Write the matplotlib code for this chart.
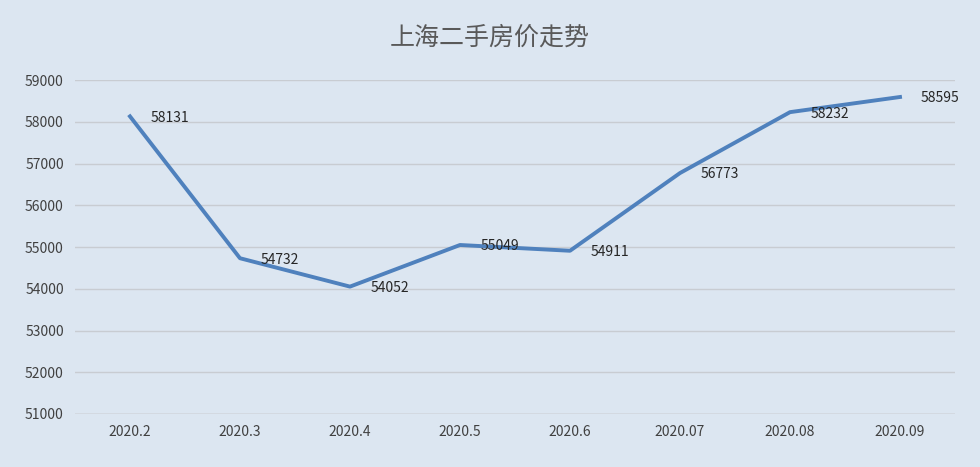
import matplotlib.pyplot as plt

plt.rcParams['font.family'] = ['Noto Sans CJK SC', 'DejaVu Sans']

months = ["2020.2", "2020.3", "2020.4", "2020.5", "2020.6", "2020.07", "2020.08", "2020.09"]
prices = [58131, 54732, 54052, 55049, 54911, 56773, 58232, 58595]

bg = "#dce6f1"
fig = plt.figure(figsize=(9.8, 4.67), dpi=100, facecolor=bg)
ax = fig.add_axes([0.0765, 0.1135, 0.898, 0.715], facecolor=bg)

x = range(len(months))
ax.plot(x, prices, color="#4f81bd", linewidth=2.8, solid_joinstyle="round")
for i, v in zip(x, prices):
    ax.annotate(str(v), (i, v), xytext=(15, -1), textcoords="offset points",
                va="center", ha="left", fontsize=10, color="#262626")

ax.set_xlim(-0.5, len(months) - 0.5)
ax.set_ylim(51000, 59000)
ax.set_yticks(range(51000, 59001, 1000))
ax.set_xticks(list(x))
ax.set_xticklabels(months)
ax.tick_params(length=0, labelsize=10, labelcolor="#404040", pad=8)
ax.yaxis.grid(True, color="#c8ccd2", linewidth=1)
ax.set_axisbelow(True)
for s in ax.spines.values():
    s.set_visible(False)
ax.axhline(51000, color="#bfbfbf", linewidth=1)

fig.text(0.5, 0.92, "上海二手房价走势", ha="center", va="center",
         fontsize=18, color="#595959")

fig.savefig("out.png", dpi=100, facecolor=bg)
